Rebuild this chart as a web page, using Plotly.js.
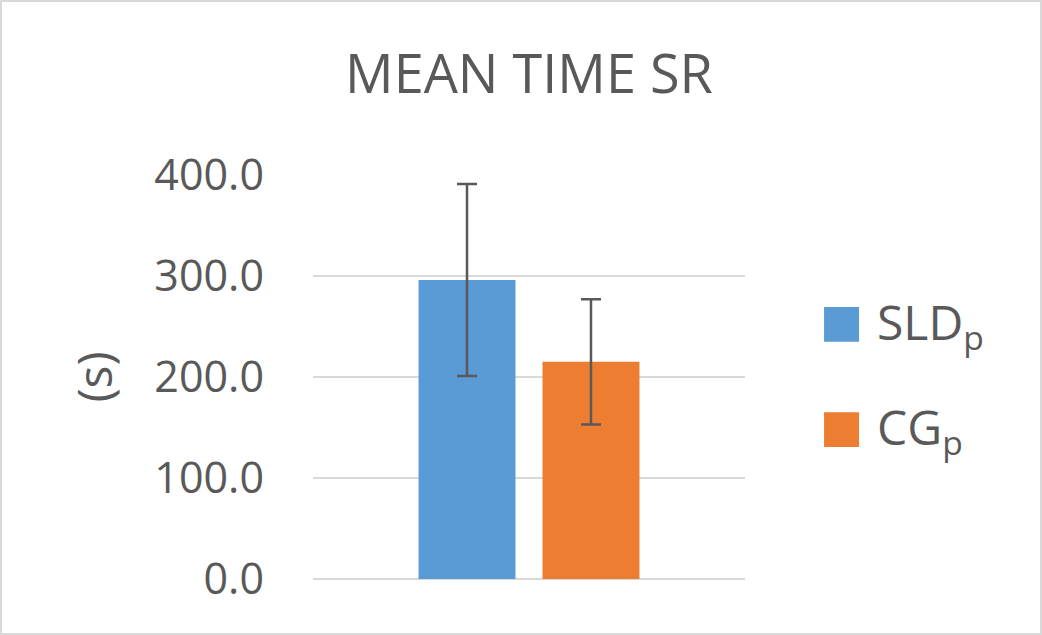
<!DOCTYPE html>
<html>
<head>
<meta charset="utf-8">
<script src="https://cdn.plot.ly/plotly-3.0.1.min.js"></script>
<style>
  html, body { margin: 0; padding: 0; background: #ffffff; }
  #wrap { width: 1042px; height: 635px; box-sizing: border-box; border: 2px solid #d9d9d9; overflow: hidden; }
  #chart { width: 1038px; height: 631px; }
</style>
</head>
<body>
<div id="wrap"><div id="chart"></div></div>
<script>
// Data
const category = ['SR'];
const seriesNames = ['SLD<sub>p</sub>', 'CG<sub>p</sub>'];
const meanValues = [296, 215];
const errorValues = [95, 62];
const seriesColors = ['#5B9BD5', '#ED7D31'];
const yTickValues = [0, 100, 200, 300, 400];

const textColor = '#595959';
const fontFamily = '"Open Sans", "Noto Sans", sans-serif';

const traces = seriesNames.map((name, i) => ({
  type: 'bar',
  name: name,
  x: category,
  y: [meanValues[i]],
  marker: { color: seriesColors[i], line: { width: 0 } },
  error_y: { type: 'data', array: [errorValues[i]], visible: true, color: textColor, thickness: 2.5, width: 10 },
  showlegend: false,
  hoverinfo: 'none'
}));

// Custom legend (large swatches like the reference)
const shapes = [];
const annotations = [];
const legendY = [0.63, 0.37];
seriesNames.forEach((name, i) => {
  shapes.push({
    type: 'rect', xref: 'paper', yref: 'paper',
    x0: 1.183, x1: 1.264, y0: legendY[i] - 0.043, y1: legendY[i] + 0.043,
    fillcolor: seriesColors[i], line: { width: 0 }
  });
  annotations.push({
    xref: 'paper', yref: 'paper', x: 1.300, y: legendY[i],
    xanchor: 'left', yanchor: 'middle', showarrow: false,
    text: name, font: { family: fontFamily, size: 48, color: textColor }
  });
});

const layout = {
  width: 1038, height: 631,
  margin: { l: 311, r: 295, t: 173, b: 54 },
  paper_bgcolor: '#ffffff', plot_bgcolor: '#ffffff',
  title: {
    text: 'MEAN TIME SR',
    font: { family: fontFamily, size: 54, color: textColor },
    x: 0.5, xanchor: 'center', xref: 'paper',
    y: 0.885, yanchor: 'middle', yref: 'container'
  },
  barmode: 'group',
  bargap: 0.426,
  bargroupgap: 0.218,
  xaxis: { showticklabels: false, showgrid: false, showline: false, zeroline: false, ticks: '', fixedrange: true },
  yaxis: {
    range: [0, 400], tickvals: yTickValues, tickformat: '.1f',
    showgrid: true, gridcolor: '#d9d9d9', gridwidth: 2,
    zeroline: true, zerolinecolor: '#d9d9d9', zerolinewidth: 2,
    showline: false, ticks: '', ticklabelstandoff: 48,
    tickfont: { family: fontFamily, size: 43, color: textColor },
    title: { text: '(s)', font: { family: fontFamily, size: 48, color: textColor }, standoff: 26 },
    fixedrange: true
  },
  shapes: shapes,
  annotations: annotations,
  showlegend: false
};

Plotly.newPlot('chart', traces, layout, { displayModeBar: false, staticPlot: true });
</script>
</body>
</html>
